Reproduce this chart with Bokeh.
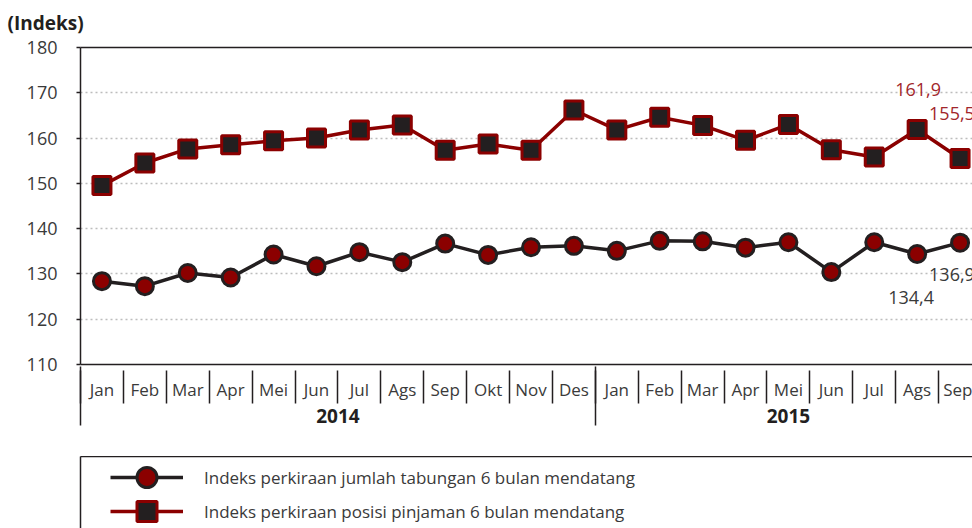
from bokeh.plotting import figure
from bokeh.layouts import column
from bokeh.models import (Range1d, LinearAxis, FixedTicker, Legend, LegendItem)
from bokeh.core.properties import value
from bokeh.embed import file_html
from bokeh.resources import INLINE

# ---------------- data ----------------
months = ["Jan", "Feb", "Mar", "Apr", "Mei", "Jun", "Jul", "Ags", "Sep", "Okt", "Nov", "Des",
          "Jan", "Feb", "Mar", "Apr", "Mei", "Jun", "Jul", "Ags", "Sep"]
years = ["2014"] * 12 + ["2015"] * 9
savings = [128.4, 127.3, 130.2, 129.2, 134.3, 131.7, 134.8, 132.6, 136.7, 134.2, 135.9, 136.2,
           135.1, 137.3, 137.2, 135.8, 137.0, 130.4, 137.0, 134.4, 136.9]
loans = [149.5, 154.5, 157.6, 158.5, 159.4, 160.0, 161.8, 162.9, 157.3, 158.7, 157.3, 166.2,
         161.8, 164.6, 162.8, 159.5, 163.0, 157.4, 155.8, 161.9, 155.5]
yticks = [110, 120, 130, 140, 150, 160, 170, 180]
series_names = ["Indeks perkiraan jumlah tabungan 6 bulan mendatang",
                "Indeks perkiraan posisi pinjaman 6 bulan mendatang"]

idx = list(range(len(months)))
DARK = "#231f20"
RED = "#8b0000"
LABEL_RED = "#a2262b"
TXT = "#3a3a3a"
FONT = "Open Sans"

def fmt(v):
    return f"{v:.1f}".replace(".", ",")

p = figure(width=972, height=456, output_backend="svg", toolbar_location=None,
           x_range=Range1d(-0.5, 20.29), y_range=Range1d(yticks[0], yticks[-1]),
           x_axis_location=None, min_border_left=80, min_border_right=0,
           min_border_top=47, min_border_bottom=92)
p.outline_line_color = None
p.background_fill_color = "white"
p.border_fill_color = "white"

# title
p.title.text = "(Indeks)"
p.title.text_font = FONT
p.title.text_font_size = "19px"
p.title.text_font_style = "bold"
p.title.text_color = DARK
p.title.align = "left"
p.title.vertical_align = "top"
p.title.offset = -73
p.title.standoff = 19

# y axis
p.yaxis.ticker = FixedTicker(ticks=yticks)
p.yaxis.axis_line_color = DARK
p.yaxis.axis_line_width = 1.5
p.yaxis.major_tick_out = 4
p.yaxis.major_tick_in = 0
p.yaxis.major_tick_line_color = DARK
p.yaxis.major_tick_line_width = 1.5
p.yaxis.minor_tick_line_color = None
p.yaxis.major_label_text_font = FONT
p.yaxis.major_label_text_font_size = "18px"
p.yaxis.major_label_text_color = TXT
p.yaxis.major_label_standoff = 19

p.ygrid.ticker = FixedTicker(ticks=yticks)
p.ygrid.grid_line_color = "#bdbdbd"
p.ygrid.grid_line_dash = "2 3"
p.ygrid.grid_line_width = 1.5
p.xgrid.grid_line_color = None

# top frame line
top = LinearAxis(ticker=FixedTicker(ticks=[]), axis_line_color=DARK, axis_line_width=1.5,
                 major_tick_out=0, major_tick_in=0, major_label_standoff=0)
p.add_layout(top, "above")

# month labels
axA = LinearAxis(ticker=FixedTicker(ticks=idx),
                 major_label_overrides={i: m for i, m in zip(idx, months)},
                 axis_line_color=DARK, axis_line_width=1.5,
                 major_tick_out=0, major_tick_in=0, minor_tick_line_color=None,
                 major_label_standoff=13,
                 major_label_text_font=FONT, major_label_text_font_size="17px",
                 major_label_text_color=TXT)
p.add_layout(axA, "below")

# year labels + month separators (drawn upward)
boundaries = [i - 0.5 for i in idx] + [idx[-1] + 0.5]
year_names = []
for y in years:
    if y not in year_names:
        year_names.append(y)
year_centers = []
year_starts = []
for y in year_names:
    ii = [i for i, yy in zip(idx, years) if yy == y]
    year_centers.append(sum(ii) / len(ii))
    year_starts.append(min(ii) - 0.5)
axB = LinearAxis(ticker=FixedTicker(ticks=year_centers, minor_ticks=boundaries),
                 major_label_overrides={c: y for c, y in zip(year_centers, year_names)},
                 axis_line_color=None,
                 major_tick_out=0, major_tick_in=0,
                 minor_tick_in=33, minor_tick_out=0,
                 minor_tick_line_color=DARK, minor_tick_line_width=1.5,
                 major_label_standoff=5,
                 major_label_text_font=FONT, major_label_text_font_size="19px",
                 major_label_text_font_style="bold",
                 major_label_text_color=DARK)
p.add_layout(axB, "below")

# year separators (drawn upward)
axD = LinearAxis(ticker=FixedTicker(ticks=[], minor_ticks=year_starts),
                 axis_line_color=None,
                 major_tick_out=0, major_tick_in=0,
                 minor_tick_in=59, minor_tick_out=0,
                 minor_tick_line_color=DARK, minor_tick_line_width=1.5,
                 major_label_standoff=0)
p.add_layout(axD, "below")

# series
l1 = p.line(idx, savings, line_color=DARK, line_width=3.5)
s1 = p.scatter(idx, savings, marker="circle", size=17, fill_color=RED,
               line_color=DARK, line_width=3)
l2 = p.line(idx, loans, line_color=RED, line_width=3.5)
s2 = p.scatter(idx, loans, marker="square", size=18, fill_color=DARK,
               line_color=RED, line_width=3)

# value labels
a, b = idx[-2], idx[-1]
p.text(x=[a], y=[loans[a]], text=[fmt(loans[a])], text_font=value(FONT), text_font_size="18px",
       text_color=LABEL_RED, text_align="center", text_baseline="middle", x_offset=1, y_offset=-40)
p.text(x=[b], y=[loans[b]], text=[fmt(loans[b])], text_font=value(FONT), text_font_size="18px",
       text_color=LABEL_RED, text_align="left", text_baseline="middle", x_offset=-31, y_offset=-45)
p.text(x=[a], y=[savings[a]], text=[fmt(savings[a])], text_font=value(FONT), text_font_size="18px",
       text_color=TXT, text_align="center", text_baseline="middle", x_offset=-6, y_offset=43)
p.text(x=[b], y=[savings[b]], text=[fmt(savings[b])], text_font=value(FONT), text_font_size="18px",
       text_color=TXT, text_align="left", text_baseline="middle", x_offset=-31, y_offset=32)

# ---------------- legend panel ----------------
p2 = figure(width=972, height=72, output_backend="svg", toolbar_location=None,
            x_range=Range1d(-0.5, 20.29), y_range=Range1d(0, 1),
            x_axis_location=None, y_axis_location=None,
            min_border_left=80, min_border_right=0, min_border_top=0, min_border_bottom=0)
p2.outline_line_color = None
p2.xgrid.grid_line_color = None
p2.ygrid.grid_line_color = None
p2.title.text = ""
for side in ("left", "above"):
    p2.add_layout(LinearAxis(ticker=FixedTicker(ticks=[]), axis_line_color=DARK,
                             axis_line_width=1.5, major_tick_out=0, major_tick_in=0,
                             major_label_standoff=0), side)

# legend-only copies of the series (the data lie outside this panel's y range)
k1 = p2.line(idx, savings, line_color=DARK, line_width=3.5)
k2 = p2.scatter(idx, savings, marker="circle", size=20, fill_color=RED, line_color=DARK, line_width=3)
k3 = p2.line(idx, loans, line_color=RED, line_width=3.5)
k4 = p2.scatter(idx, loans, marker="square", size=20, fill_color=DARK, line_color=RED, line_width=3)

legend_style = dict(orientation="vertical", glyph_width=73, glyph_height=50, label_standoff=21,
                    spacing=0, padding=0, margin=0, border_line_color=None,
                    background_fill_alpha=0, label_text_font=FONT,
                    label_text_font_size="17px", label_text_color=TXT)
leg1 = Legend(items=[LegendItem(label=series_names[0], renderers=[k1, k2])],
              location=(30, 26), **legend_style)
leg2 = Legend(items=[LegendItem(label=series_names[1], renderers=[k3, k4])],
              location=(30, -8), **legend_style)
p2.add_layout(leg1, "center")
p2.add_layout(leg2, "center")

layout = column(p, p2, spacing=0)
open("out.html", "w").write(file_html(layout, INLINE))
